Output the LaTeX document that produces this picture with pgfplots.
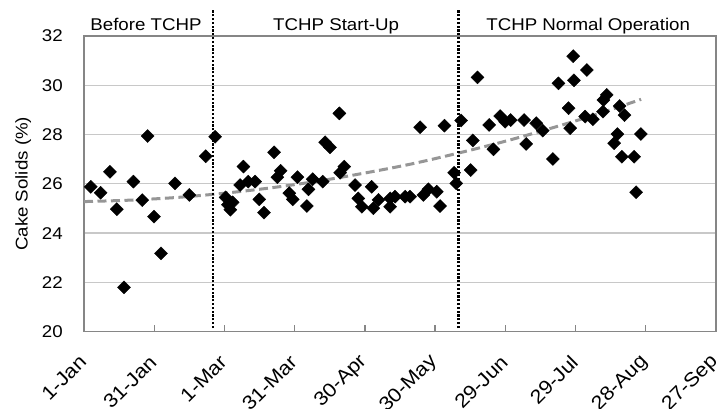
\documentclass[border=0pt]{standalone}
\usepackage{fontspec}
\setmainfont{Liberation Sans}[FakeStretch=1.1]
\usepackage{pgfplots}
\pgfplotsset{compat=1.18}
\definecolor{axisgray}{RGB}{134,134,134}
\definecolor{gridgray}{RGB}{200,200,200}
\definecolor{trendgray}{RGB}{150,150,150}
\begin{document}
\fontsize{17bp}{20bp}\selectfont
\begin{tikzpicture}
\useasboundingbox (-84bp,-77.3bp) rectangle (638bp,331.7bp);
\begin{axis}[
  scale only axis,
  width=632bp, height=295.7bp,
  xmin=0, xmax=270, ymin=20, ymax=32,
  xtick={0,30,...,270},
  xticklabels={1-Jan,31-Jan,1-Mar,31-Mar,30-Apr,30-May,29-Jun,29-Jul,28-Aug,27-Sep},
  ytick={20,22,...,32},
  /pgf/number format/assume math mode=true,
  xtick pos=left, xtick align=inside,
  major tick length=7bp,
  xtick style={draw=axisgray, line width=1.3bp},
  ytick style={draw=none},
  ymajorgrids,
  major grid style={draw=gridgray, line width=1.3bp},
  axis line style={draw=axisgray, line width=1.5bp},
  xticklabel style={font=\fontsize{19.5bp}{22bp}\selectfont, inner sep=0pt, xshift=-1bp, yshift=-27bp, rotate=45, anchor=east},
  yticklabel style={inner sep=0pt, xshift=-21bp, anchor=east},
  ylabel={Cake Solids (\%)},
  ylabel style={at={(axis description cs:-0.096,0.5)}, rotate=0, anchor=center, inner sep=0pt},
  clip=false,
]
\addplot[only marks, mark=square*, mark size=4.6bp, mark options={rotate=45, fill=black, draw=none}] coordinates {
(2.9,25.88)(7.1,25.64)(11.1,26.49)(14.0,24.97)(17.1,21.80)(21.1,26.09)(24.9,25.34)(27.2,27.94)(29.9,24.67)(32.9,23.18)(38.9,26.02)(45.0,25.55)(52.0,27.12)(56.0,27.91)
(60.5,25.45)(61.5,25.15)(63.5,25.25)(62.5,24.95)
(66.7,25.95)(68.1,26.70)(70.2,26.09)(73.1,26.09)(74.9,25.37)(76.9,24.83)(81.2,27.28)(82.6,26.27)(84.0,26.53)(87.7,25.62)(89.2,25.37)(91.2,26.27)(95.2,25.10)(95.9,25.78)(97.7,26.19)(102.0,26.09)(103.0,27.69)(105.1,27.48)(109.1,28.86)(109.4,26.45)(111.2,26.70)
(115.8,25.95)(117.2,25.41)(118.7,25.07)(122.9,25.88)(123.6,25.01)(125.8,25.35)(130.8,25.07)(130.8,25.41)(132.9,25.48)(137.2,25.48)(139.3,25.48)(143.6,28.30)(145.0,25.55)(147.1,25.78)(150.7,25.68)(152.1,25.10)(154.0,28.36)(158.1,26.45)(159.0,26.02)
(161.1,28.57)(165.2,26.56)(166.1,27.76)(168.1,30.32)(173.1,28.39)(174.9,27.40)(177.8,28.75)(179.9,28.52)(182.3,28.59)(188.0,28.59)(188.9,27.62)(193.2,28.46)(196.0,28.16)(200.3,27.01)(202.7,30.08)(207.0,29.07)(207.7,28.26)(209.3,30.20)(209.0,31.18)(214.8,30.62)(214.1,28.73)(217.4,28.62)(221.7,28.93)(221.9,29.40)(223.3,29.61)(228.8,29.16)(230.9,28.79)(227.9,28.02)(226.5,27.65)(229.8,27.10)(235.0,27.10)(237.9,28.02)(235.9,25.66)
};
\addplot[smooth, draw=trendgray, line width=3bp, dash pattern=on 9bp off 4.5bp] coordinates {
(0,25.28)(20,25.34)(40,25.45)(60,25.62)(80,25.84)(100,26.11)(120,26.44)(140,26.81)(160,27.25)(180,27.73)(200,28.27)(220,28.85)(238,29.43)
};
\draw[black, line width=2.2bp, dash pattern=on 2.2bp off 1.6bp] (axis cs:55,20.15) -- (axis cs:55,33.06);
\draw[black, line width=2.2bp, dash pattern=on 2.2bp off 1.6bp] (axis cs:160,20.15) -- (axis cs:160,33.06);
\node[anchor=base, inner sep=0pt] at (axis cs:26.5,32.24) {Before TCHP};
\node[anchor=base, inner sep=0pt] at (axis cs:107.7,32.24) {TCHP Start-Up};
\node[anchor=base, inner sep=0pt] at (axis cs:215.4,32.24) {TCHP Normal Operation};
\end{axis}
\end{tikzpicture}
\end{document}
